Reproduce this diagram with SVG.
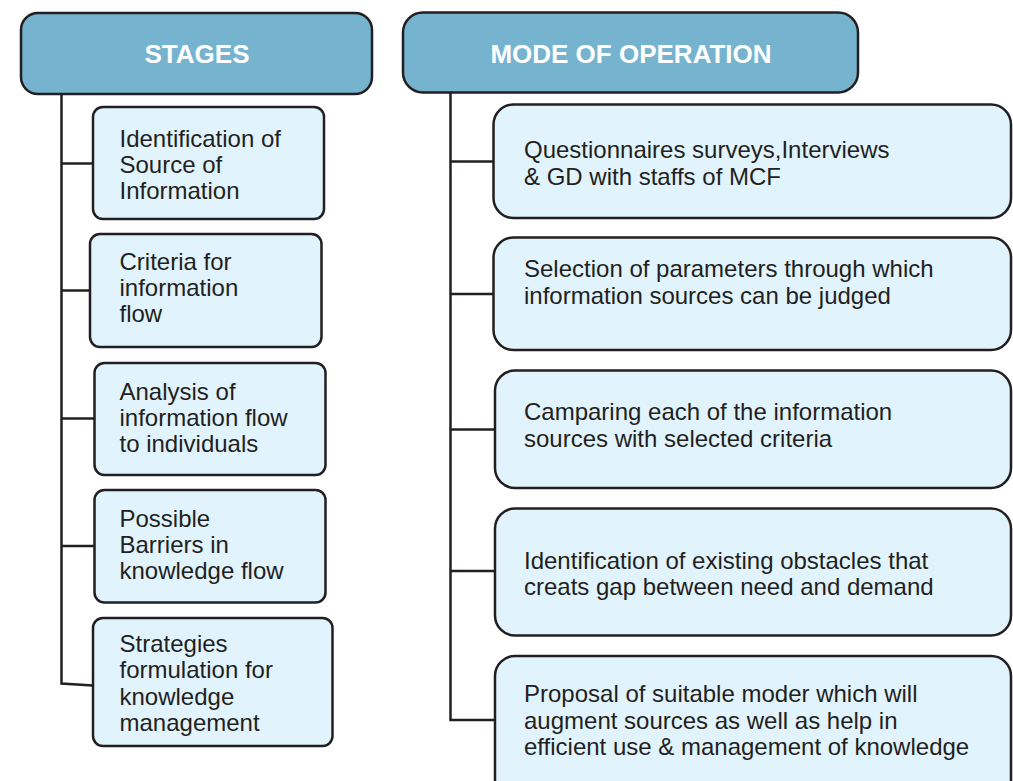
<svg xmlns="http://www.w3.org/2000/svg" width="1013" height="781" viewBox="0 0 1013 781">
<style>
.hdr{fill:#76b3cf;stroke:#231f20;stroke-width:2.5}
.box{fill:#e1f3fd;stroke:#231f20;stroke-width:2.5}
.ht{font-family:"Liberation Sans",Arial,sans-serif;font-weight:bold;font-size:26px;fill:#ffffff;text-anchor:middle}
.t{font-family:"Liberation Sans",Arial,sans-serif;font-size:24px;fill:#231f20}
.ln{fill:none;stroke:#231f20;stroke-width:2.5}
</style>
<rect width="1013" height="781" fill="#ffffff"/>
<g id="connectors">
<path class="ln" d="M61.5,94 V683.5 L93,685.5"/>
<path class="ln" d="M61.5,163.5 H93"/>
<path class="ln" d="M61.5,290.5 H90"/>
<path class="ln" d="M61.5,418.5 H94"/>
<path class="ln" d="M61.5,546 H94"/>
<path class="ln" d="M450.5,92 V720 H495"/>
<path class="ln" d="M450.5,161.5 H493"/>
<path class="ln" d="M450.5,294 H493"/>
<path class="ln" d="M450.5,429.5 H495"/>
<path class="ln" d="M450.5,571 H495"/>
</g>
<g id="stages">
<rect class="hdr" x="21" y="13" width="351" height="81" rx="17"/>
<text class="ht" x="197" y="63">STAGES</text>
</g>
<g id="mode">
<rect class="hdr" x="403" y="12.5" width="455" height="80" rx="20"/>
<text class="ht" x="631" y="62.5">MODE OF OPERATION</text>
</g>
<g id="s1">
<rect class="box" x="93" y="107" width="231" height="112" rx="10"/>
<text class="t" x="119.5" y="146.5">Identification of</text>
<text class="t" x="119.5" y="172.5">Source of</text>
<text class="t" x="119.5" y="198.5">Information</text>
</g>
<g id="s2">
<rect class="box" x="90" y="234" width="231.5" height="113" rx="10"/>
<text class="t" x="119.5" y="270">Criteria for</text>
<text class="t" x="119.5" y="296">information</text>
<text class="t" x="119.5" y="322">flow</text>
</g>
<g id="s3">
<rect class="box" x="94.5" y="363" width="231" height="112" rx="10"/>
<text class="t" x="119.5" y="400">Analysis of</text>
<text class="t" x="119.5" y="426">information flow</text>
<text class="t" x="119.5" y="452">to individuals</text>
</g>
<g id="s4">
<rect class="box" x="94.5" y="490" width="231" height="112.5" rx="10"/>
<text class="t" x="119.5" y="527">Possible</text>
<text class="t" x="119.5" y="553">Barriers in</text>
<text class="t" x="119.5" y="579">knowledge flow</text>
</g>
<g id="s5">
<rect class="box" x="93" y="618" width="239.5" height="128" rx="10"/>
<text class="t" x="119.5" y="652">Strategies</text>
<text class="t" x="119.5" y="678">formulation for</text>
<text class="t" x="119.5" y="704.5">knowledge</text>
<text class="t" x="119.5" y="731">management</text>
</g>
<g id="m1">
<rect class="box" x="493.5" y="104.5" width="517.5" height="113.5" rx="20"/>
<text class="t" x="524" y="157.5">Questionnaires surveys,Interviews</text>
<text class="t" x="524" y="184.5">&amp; GD with staffs of MCF</text>
</g>
<g id="m2">
<rect class="box" x="493.5" y="237.5" width="517.5" height="112.5" rx="20"/>
<text class="t" x="524" y="276.5">Selection of parameters through which</text>
<text class="t" x="524" y="303.5">information sources can be judged</text>
</g>
<g id="m3">
<rect class="box" x="495" y="370.5" width="516" height="117.5" rx="20"/>
<text class="t" x="524" y="420">Camparing each of the information</text>
<text class="t" x="524" y="446.5">sources with selected criteria</text>
</g>
<g id="m4">
<rect class="box" x="495" y="508.5" width="516" height="127" rx="20"/>
<text class="t" x="524" y="568.5">Identification of existing obstacles that</text>
<text class="t" x="524" y="595">creats gap between need and demand</text>
</g>
<g id="m5">
<rect class="box" x="495" y="656" width="516" height="150" rx="20"/>
<text class="t" x="524" y="701.5">Proposal of suitable moder which will</text>
<text class="t" x="524" y="728.5">augment sources as well as help in</text>
<text class="t" x="524" y="755">efficient use &amp; management of knowledge</text>
</g>
</svg>
